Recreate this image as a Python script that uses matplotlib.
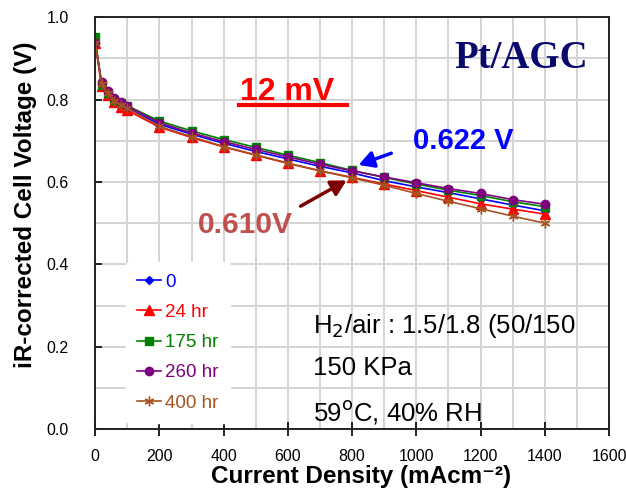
import numpy as np
import matplotlib.pyplot as plt

plt.rcParams['font.family'] = ['Liberation Sans', 'DejaVu Sans']

# Current density (mA/cm2)
current = [0, 20, 40, 60, 80, 100, 200, 300, 400, 500, 600, 700, 800,
           900, 1000, 1100, 1200, 1300, 1400]

# iR-corrected cell voltage (V) for each hold time
v_0 = [0.940, 0.840, 0.818, 0.800, 0.790, 0.780, 0.740, 0.716, 0.694, 0.674,
       0.656, 0.638, 0.622, 0.603, 0.588, 0.574, 0.559, 0.544, 0.530]
v_24 = [0.938, 0.832, 0.810, 0.793, 0.783, 0.774, 0.733, 0.708, 0.685, 0.665,
        0.645, 0.627, 0.611, 0.595, 0.579, 0.563, 0.547, 0.534, 0.522]
v_175 = [0.951, 0.835, 0.815, 0.800, 0.792, 0.785, 0.748, 0.724, 0.703, 0.684,
         0.665, 0.647, 0.628, 0.611, 0.595, 0.580, 0.567, 0.552, 0.540]
v_260 = [0.938, 0.843, 0.820, 0.803, 0.794, 0.784, 0.744, 0.719, 0.698, 0.679,
         0.661, 0.643, 0.627, 0.612, 0.598, 0.584, 0.572, 0.557, 0.546]
v_400 = [0.938, 0.838, 0.815, 0.797, 0.788, 0.779, 0.735, 0.710, 0.686, 0.666,
         0.646, 0.627, 0.610, 0.592, 0.572, 0.553, 0.535, 0.517, 0.500]

labels = ['0', '24 hr', '175 hr', '260 hr', '400 hr']
series = [v_0, v_24, v_175, v_260, v_400]
colors = ['#0000ff', '#ff0000', '#008000', '#800080', '#a5531f']
markers = ['D', '^', 's', 'o', (6, 2, 0)]
msizes = [4.5, 6.5, 5.5, 6, 7]

fig = plt.figure(figsize=(6.26, 4.91), dpi=100)
ax = fig.add_axes([0.152, 0.126, 0.821, 0.839])

for v, lab, c, m, ms in zip(series, labels, colors, markers, msizes):
    ax.plot(current, v, color=c, marker=m, markersize=ms, linewidth=1.2,
            markeredgewidth=1.0, label=lab)

ax.set_xlim(0, 1600)
ax.set_ylim(0, 1.0)
ax.set_xticks(np.arange(0, 1601, 200))
ax.set_yticks(np.arange(0, 1.01, 0.2))
ax.set_yticklabels(['%.1f' % t for t in np.arange(0, 1.01, 0.2)])
ax.set_xticks(np.arange(0, 1601, 100), minor=True)
ax.set_yticks(np.arange(0, 1.01, 0.1), minor=True)
ax.grid(True, which='both', color='#d4d4d4', linewidth=1.4)
ax.set_axisbelow(True)
ax.tick_params(axis='x', which='major', direction='inout', length=10,
               width=1.2, labelsize=11.5, pad=9)
ax.tick_params(axis='y', which='major', direction='in', length=5,
               width=1.2, labelsize=11.5, pad=19)
ax.tick_params(which='minor', length=0)
for s in ax.spines.values():
    s.set_linewidth(1.4)
    s.set_color('#222222')

fig.text(0.577, 0.016, 'Current Density (mAcm\u207b\u00b2)', fontsize=17.5,
         fontweight='bold', ha='center', va='baseline')
fig.text(0.040, 0.582, 'iR-corrected Cell Voltage (V)', fontsize=17.5,
         fontweight='bold', ha='center', va='center', rotation=90)

leg = ax.legend(loc='upper left', bbox_to_anchor=(0.06, 0.405),
                borderaxespad=0, frameon=True, fontsize=13.5,
                handlelength=1.25, labelspacing=0.7, borderpad=0.6,
                handletextpad=0.25)
leg.get_frame().set_edgecolor('white')
leg.get_frame().set_facecolor('white')
leg.get_frame().set_alpha(1)
for t, c in zip(leg.get_texts(), colors):
    t.set_color(c)

ax.text(1536, 0.900, 'Pt/AGC', fontsize=28, fontweight='bold',
        family=['Liberation Serif'], color='#0a0a6e', ha='right', va='center')
ax.text(452, 0.818, '12 mV', fontsize=23, fontweight='bold', color='#ff0000',
        ha='left', va='center')
ax.plot([448, 784], [0.787, 0.787], color='#ff0000', linewidth=3)
ax.text(988, 0.700, '0.622 V', fontsize=21, fontweight='bold', color='#0000ff',
        ha='left', va='center')
ax.annotate('', xy=(812, 0.639), xytext=(930, 0.672),
            arrowprops=dict(arrowstyle='-|>,head_length=0.9,head_width=0.5',
                            color='#0000ff', lw=2.5))
ax.text(320, 0.496, '0.610V', fontsize=21.5, fontweight='bold',
        color='#c0504d', ha='left', va='center')
ax.annotate('', xy=(790, 0.607), xytext=(632, 0.538),
            arrowprops=dict(arrowstyle='-|>,head_length=0.9,head_width=0.5',
                            color='#7f0000', lw=2.5))

ax.text(679, 0.250, 'H$_2$/air : 1.5/1.8 (50/150', fontsize=18.5, ha='left',
        va='center')
ax.text(679, 0.148, '150 KPa', fontsize=18.5, ha='left', va='center')
ax.text(679, 0.041, '59$^{\\rm o}$C, 40% RH', fontsize=18.5, ha='left',
        va='center')

plt.savefig('out.png', dpi=100)
